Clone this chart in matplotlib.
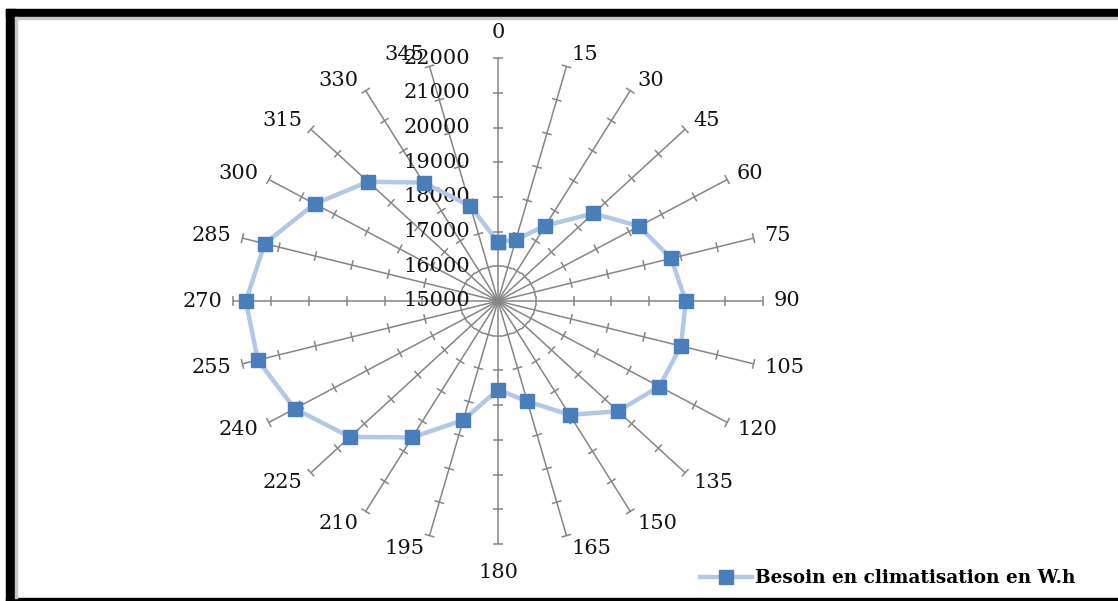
import numpy as np
import matplotlib.pyplot as plt
from matplotlib.collections import LineCollection
from matplotlib.patches import Rectangle

angles = list(range(0, 360, 15))
besoin = [16700, 16830, 17510, 18570, 19310, 19740, 19970, 20010, 19930, 19490,
          18790, 17990, 17560, 18550, 19540, 20540, 21210, 21580, 21670, 21390,
          20600, 19860, 18940, 17830]
r_min, r_max, r_step = 15000, 22000, 1000
serie = "Besoin en climatisation en W.h"

W, H = 1118, 601
sx, sy = 37.8, 34.7          # pixels per 1000 W.h, horizontal / vertical
cx, cy = 498, 300            # centre, pixels from bottom-left

fig = plt.figure(figsize=(W / 100, H / 100), dpi=100)
ax = fig.add_axes([(cx - 9 * sx) / W, (cy - 8 * sy) / H, 18 * sx / W, 16 * sy / H])
ax.set_xlim(-9, 9)
ax.set_ylim(-8, 8)
ax.axis("off")

# frame like the pasted excel picture
fig.patches.append(Rectangle((6 / W, 0), (W - 6) / W, 3 / H, transform=fig.transFigure, color="black"))
fig.patches.append(Rectangle((6 / W, (H - 17) / H), (W - 6) / W, 8 / H, transform=fig.transFigure, color="black"))
fig.patches.append(Rectangle((6 / W, 0), 9 / W, (H - 9) / H, transform=fig.transFigure, color="black"))
fig.patches.append(Rectangle((15 / W, 3 / H), 2 / W, (H - 20) / H, transform=fig.transFigure, color="#c8c8c8"))
fig.patches.append(Rectangle((15 / W, (H - 19) / H), (W - 15) / W, 2 / H, transform=fig.transFigure, color="#c8c8c8"))

n_ticks = (r_max - r_min) // r_step
th = np.radians(angles)
s, c = np.sin(th), np.cos(th)

spokes, ticks = [], []
for si, ci in zip(s, c):
    spokes.append([(0, 0), (n_ticks * si, n_ticks * ci)])
    d = np.array([si * sx, ci * sy])
    d = d / np.hypot(*d)
    px, py = -d[1] * 5 / sx, d[0] * 5 / sy
    for k in range(1, n_ticks + 1):
        x0, y0 = k * si, k * ci
        ticks.append([(x0 - px, y0 - py), (x0 + px, y0 + py)])
ax.add_collection(LineCollection(spokes, colors="#868686", linewidths=1.1, zorder=1))
ax.add_collection(LineCollection(ticks, colors="#868686", linewidths=1.1, zorder=1))

lab = dict(fontsize=15, family="DejaVu Serif", color="#141414", clip_on=False)

# category labels, placed next to the end of each spoke
for a, si, ci in zip(angles, s, c):
    ex, ey = n_ticks * si, n_ticks * ci
    if abs(si) < 0.01:
        off = 26 if ci > 0 else 29
        ax.text(ex, ey + np.sign(ci) * off / sy, str(a), ha="center", va="center", **lab)
    else:
        gap = (3 + 8 * abs(si)) * np.sign(si)
        dy = 12 * ci if ci > 0 else 13.5 * ci
        ax.text(ex + gap / sx, ey + dy / sy, str(a), ha="left" if si > 0 else "right",
                va="center", **lab)

# radial value labels
for k in range(n_ticks + 1):
    ax.text(-28 / sx, k, str(r_min + k * r_step), ha="right", va="center", **lab)

r = (np.array(besoin + besoin[:1]) - r_min) / r_step
t = np.radians(angles + angles[:1])
line, = ax.plot(r * np.sin(t), r * np.cos(t), color="#b4c7e7", lw=3.2,
                marker="s", markersize=9.5, markerfacecolor="#4a7ebb",
                markeredgecolor="#4a7ebb", zorder=3, clip_on=False, label=serie)

fig.legend(handles=[line], loc="center left", bbox_to_anchor=(700 / W, 23 / H),
           frameon=False, borderpad=0, borderaxespad=0, handlelength=2.8,
           handletextpad=0.2, prop={"family": "DejaVu Serif", "weight": "bold", "size": 13.3})

fig.savefig("out.png", dpi=100)
